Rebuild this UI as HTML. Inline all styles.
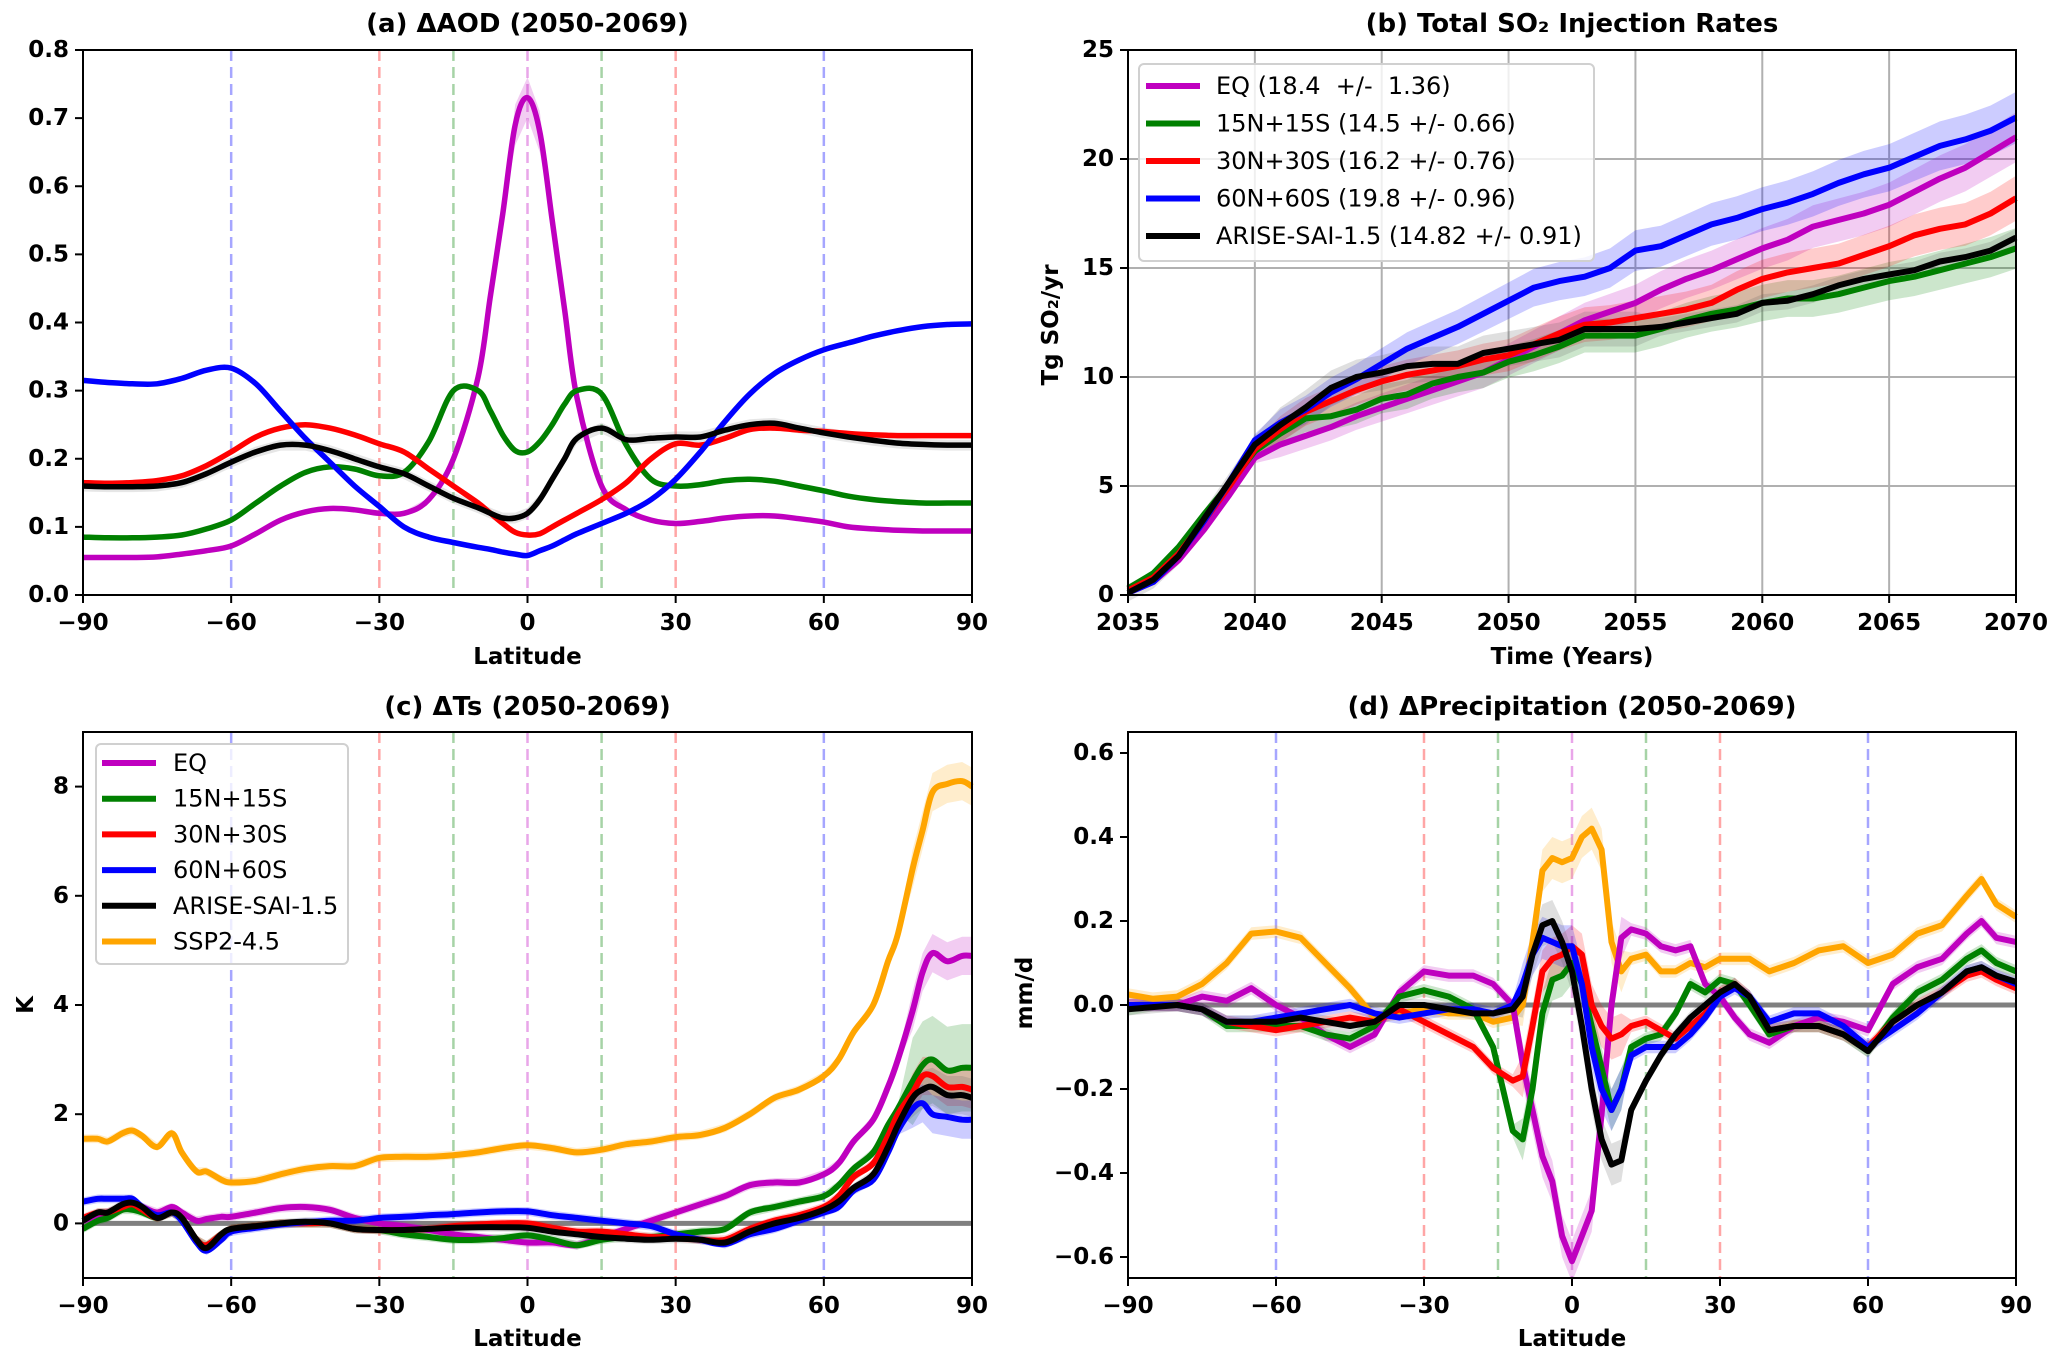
<!DOCTYPE html>
<html><head><meta charset="utf-8">
<style>
html,body{margin:0;padding:0;background:#fff;}
svg{display:block;font-family:"DejaVu Sans","Liberation Sans",sans-serif;}
svg text{white-space:pre;}
</style></head>
<body>
<svg id="fig" width="2067" height="1358" viewBox="0 0 2067 1358" xmlns="http://www.w3.org/2000/svg"></svg>
<script>
// ---------- Panel (a) data: ΔAOD ----------
const latA = [-90,-85,-80,-75,-70,-65,-60,-55,-50,-45,-40,-35,-30,-25,-20,-15,-10,-7.5,-5,-2.5,0,2.5,5,7.5,10,15,20,25,30,35,40,45,50,55,60,65,70,75,80,85,90];
const aodEQ   = [0.055,0.055,0.055,0.056,0.06,0.065,0.072,0.09,0.11,0.122,0.127,0.125,0.12,0.12,0.14,0.2,0.32,0.44,0.56,0.69,0.73,0.68,0.55,0.42,0.29,0.16,0.125,0.11,0.105,0.108,0.113,0.116,0.116,0.112,0.107,0.1,0.097,0.095,0.094,0.094,0.094];
const aod15   = [0.085,0.084,0.084,0.085,0.088,0.097,0.11,0.135,0.16,0.18,0.188,0.185,0.175,0.18,0.225,0.3,0.3,0.27,0.235,0.212,0.21,0.225,0.25,0.28,0.3,0.295,0.22,0.17,0.16,0.162,0.168,0.17,0.167,0.16,0.153,0.145,0.14,0.137,0.135,0.135,0.135];
const aod30   = [0.165,0.164,0.165,0.168,0.175,0.19,0.21,0.232,0.245,0.25,0.245,0.235,0.222,0.21,0.185,0.16,0.135,0.12,0.105,0.092,0.088,0.09,0.1,0.11,0.12,0.14,0.165,0.2,0.222,0.22,0.23,0.243,0.245,0.242,0.24,0.237,0.235,0.234,0.234,0.234,0.234];
const aod60   = [0.315,0.312,0.31,0.31,0.318,0.33,0.333,0.31,0.27,0.23,0.195,0.16,0.13,0.1,0.085,0.077,0.07,0.067,0.063,0.06,0.058,0.065,0.072,0.081,0.09,0.105,0.12,0.14,0.17,0.21,0.255,0.295,0.325,0.345,0.36,0.37,0.38,0.388,0.394,0.397,0.398];
const aodARISE= [0.16,0.159,0.159,0.16,0.165,0.178,0.195,0.21,0.22,0.22,0.212,0.2,0.188,0.178,0.16,0.142,0.128,0.12,0.113,0.113,0.12,0.14,0.17,0.2,0.23,0.245,0.228,0.23,0.232,0.232,0.242,0.25,0.252,0.245,0.238,0.232,0.227,0.223,0.221,0.22,0.22];
const ticksAy = [0.0,0.1,0.2,0.3,0.4,0.5,0.6,0.7,0.8];
const ticksLat = [-90,-60,-30,0,30,60,90];

// ---------- Panel (b) data: SO2 injection ----------
const years = [2035,2036,2037,2038,2039,2040,2041,2042,2043,2044,2045,2046,2047,2048,2049,2050,2051,2052,2053,2054,2055,2056,2057,2058,2059,2060,2061,2062,2063,2064,2065,2066,2067,2068,2069,2070];
const injEQ   = [0.1,0.6,1.6,3.0,4.6,6.3,6.9,7.3,7.7,8.2,8.6,9.0,9.4,9.8,10.2,10.8,11.4,12.0,12.6,13.0,13.4,14.0,14.5,14.9,15.4,15.9,16.3,16.9,17.2,17.5,17.9,18.5,19.1,19.6,20.3,21.0];
const inj15   = [0.3,1.0,2.2,3.7,5.1,6.6,7.4,8.1,8.2,8.5,9.0,9.2,9.7,10.0,10.2,10.7,11.0,11.4,11.9,11.9,11.9,12.2,12.6,12.9,13.1,13.4,13.6,13.6,13.8,14.1,14.4,14.6,14.9,15.2,15.5,15.9];
const inj30   = [0.2,0.8,1.9,3.4,5.0,6.7,7.6,8.4,8.9,9.4,9.8,10.1,10.3,10.5,10.8,11.0,11.5,12.0,12.4,12.5,12.7,12.9,13.1,13.4,14.0,14.5,14.8,15.0,15.2,15.6,16.0,16.5,16.8,17.0,17.5,18.2];
const inj60   = [0.1,0.6,1.8,3.4,5.2,7.1,7.9,8.5,9.3,9.9,10.6,11.3,11.8,12.3,12.9,13.5,14.1,14.4,14.6,15.0,15.8,16.0,16.5,17.0,17.3,17.7,18.0,18.4,18.9,19.3,19.6,20.1,20.6,20.9,21.3,21.9];
const injARISE= [0.1,0.7,1.8,3.5,5.2,6.9,7.8,8.6,9.5,10.0,10.2,10.5,10.6,10.6,11.1,11.3,11.5,11.7,12.2,12.2,12.2,12.3,12.5,12.7,12.9,13.4,13.5,13.8,14.2,14.5,14.7,14.9,15.3,15.5,15.8,16.4];
const ticksBx = [2035,2040,2045,2050,2055,2060,2065,2070];
const ticksBy = [0,5,10,15,20,25];
const legendB = ["EQ (18.4  +/-  1.36)","15N+15S (14.5 +/- 0.66)","30N+30S (16.2 +/- 0.76)","60N+60S (19.8 +/- 0.96)","ARISE-SAI-1.5 (14.82 +/- 0.91)"];

// ---------- Panel (c) data: ΔTs ----------
const latC = [-90,-87,-85,-82,-80,-78,-75,-72,-70,-67,-65,-62,-60,-55,-50,-45,-40,-35,-30,-25,-20,-15,-10,-5,0,5,10,15,20,25,30,35,40,45,50,55,60,63,66,70,73,75,78,80,82,85,88,90];
const tsSSP  = [1.55,1.55,1.5,1.65,1.7,1.6,1.4,1.65,1.3,0.95,0.95,0.8,0.75,0.78,0.9,1.0,1.05,1.05,1.2,1.22,1.22,1.25,1.3,1.38,1.43,1.38,1.3,1.35,1.45,1.5,1.58,1.62,1.75,2.0,2.3,2.45,2.7,3.0,3.5,4.0,4.8,5.3,6.5,7.2,7.9,8.05,8.1,8.0];
const tsEQ   = [0.05,0.15,0.2,0.3,0.35,0.3,0.2,0.3,0.2,0.05,0.08,0.12,0.12,0.2,0.28,0.3,0.25,0.1,0.0,-0.05,-0.12,-0.2,-0.25,-0.3,-0.35,-0.35,-0.4,-0.25,-0.1,0.05,0.2,0.35,0.5,0.7,0.75,0.75,0.9,1.1,1.5,1.9,2.5,3.0,3.9,4.6,4.95,4.8,4.9,4.9];
const ts15   = [-0.1,0.05,0.1,0.25,0.25,0.2,0.1,0.2,0.1,-0.3,-0.4,-0.2,-0.1,-0.05,0.0,0.0,0.0,-0.1,-0.12,-0.2,-0.25,-0.3,-0.3,-0.27,-0.22,-0.3,-0.4,-0.3,-0.25,-0.25,-0.2,-0.15,-0.1,0.2,0.3,0.4,0.5,0.7,1.0,1.3,1.8,2.1,2.6,2.9,3.0,2.8,2.85,2.85];
const ts30   = [0.1,0.2,0.2,0.3,0.35,0.25,0.1,0.2,0.1,-0.3,-0.4,-0.2,-0.1,-0.05,0.0,0.0,0.0,-0.1,-0.12,-0.12,-0.1,-0.05,-0.02,0.0,0.0,-0.08,-0.15,-0.15,-0.2,-0.25,-0.25,-0.3,-0.3,-0.1,0.05,0.15,0.3,0.5,0.85,1.1,1.6,2.0,2.4,2.7,2.7,2.5,2.5,2.45];
const ts60   = [0.4,0.45,0.45,0.45,0.45,0.3,0.15,0.2,0.05,-0.35,-0.5,-0.3,-0.15,-0.08,-0.02,0.02,0.05,0.05,0.1,0.12,0.15,0.17,0.2,0.22,0.22,0.15,0.1,0.05,0.0,-0.05,-0.2,-0.3,-0.38,-0.2,-0.1,0.05,0.2,0.3,0.6,0.8,1.3,1.7,2.1,2.2,2.0,1.95,1.9,1.9];
const tsARISE= [0.05,0.2,0.2,0.35,0.38,0.3,0.1,0.2,0.1,-0.3,-0.45,-0.2,-0.1,-0.05,0.0,0.03,0.0,-0.1,-0.12,-0.12,-0.1,-0.08,-0.07,-0.07,-0.08,-0.15,-0.2,-0.25,-0.28,-0.3,-0.28,-0.3,-0.35,-0.15,0.0,0.1,0.25,0.4,0.65,0.9,1.4,1.8,2.3,2.45,2.5,2.35,2.35,2.3];
const ticksCy = [0,2,4,6,8];
const legendC = ["EQ","15N+15S","30N+30S","60N+60S","ARISE-SAI-1.5","SSP2-4.5"];

// ---------- Panel (d) data: ΔPrecipitation ----------
const latD = [-90,-85,-80,-75,-70,-65,-60,-55,-50,-45,-40,-35,-30,-25,-20,-16,-12,-10,-8,-6,-4,-2,0,2,4,6,8,10,12,15,18,21,24,27,30,33,36,40,45,50,55,60,65,70,75,80,83,86,90];
const prSSP  = [0.025,0.015,0.02,0.05,0.1,0.17,0.175,0.16,0.1,0.04,-0.03,-0.02,-0.01,-0.02,-0.02,-0.04,-0.03,0.0,0.15,0.32,0.35,0.34,0.35,0.4,0.42,0.37,0.15,0.08,0.11,0.12,0.08,0.08,0.1,0.09,0.11,0.11,0.11,0.08,0.1,0.13,0.14,0.1,0.12,0.17,0.19,0.26,0.3,0.24,0.21];
const prEQ   = [0.0,0.0,0.0,0.02,0.01,0.04,0.0,-0.03,-0.07,-0.1,-0.07,0.03,0.08,0.07,0.07,0.05,0.0,-0.14,-0.25,-0.36,-0.42,-0.55,-0.61,-0.55,-0.49,-0.26,0.0,0.16,0.18,0.17,0.14,0.13,0.14,0.05,0.02,-0.03,-0.07,-0.09,-0.05,-0.03,-0.04,-0.06,0.05,0.09,0.11,0.17,0.2,0.16,0.15];
const pr15   = [-0.01,0.0,0.0,-0.01,-0.05,-0.05,-0.05,-0.05,-0.07,-0.08,-0.05,0.02,0.035,0.02,-0.01,-0.1,-0.3,-0.32,-0.2,-0.02,0.06,0.07,0.1,0.05,-0.05,-0.15,-0.25,-0.2,-0.1,-0.08,-0.07,-0.02,0.05,0.03,0.06,0.05,0.0,-0.07,-0.05,-0.05,-0.07,-0.11,-0.03,0.03,0.06,0.11,0.13,0.1,0.08];
const pr30   = [0.0,0.0,0.0,-0.01,-0.04,-0.05,-0.06,-0.05,-0.04,-0.03,-0.04,-0.01,-0.04,-0.07,-0.1,-0.15,-0.18,-0.17,-0.05,0.08,0.11,0.12,0.14,0.12,0.0,-0.05,-0.08,-0.07,-0.05,-0.04,-0.06,-0.08,-0.05,-0.02,0.03,0.05,0.02,-0.06,-0.05,-0.05,-0.07,-0.1,-0.04,0.0,0.03,0.07,0.08,0.06,0.04];
const pr60   = [0.0,0.0,0.0,-0.01,-0.04,-0.04,-0.03,-0.02,-0.01,0.0,-0.02,-0.03,-0.02,-0.01,-0.01,-0.02,0.0,0.05,0.12,0.16,0.15,0.14,0.14,0.05,-0.1,-0.2,-0.25,-0.2,-0.12,-0.1,-0.1,-0.1,-0.07,-0.03,0.02,0.04,0.02,-0.04,-0.02,-0.02,-0.05,-0.1,-0.06,-0.02,0.03,0.08,0.09,0.07,0.05];
const prARISE= [-0.01,-0.005,0.0,-0.01,-0.04,-0.04,-0.04,-0.03,-0.04,-0.05,-0.04,0.0,0.0,-0.01,-0.02,-0.02,-0.01,0.02,0.12,0.19,0.2,0.15,0.08,-0.05,-0.2,-0.32,-0.38,-0.37,-0.25,-0.18,-0.12,-0.07,-0.03,0.0,0.03,0.05,0.02,-0.06,-0.05,-0.05,-0.07,-0.11,-0.04,0.0,0.03,0.08,0.09,0.07,0.055];
const ticksDy = [-0.6,-0.4,-0.2,0.0,0.2,0.4,0.6];

const C = {eq:'#bf00bf', g:'#008000', r:'#ff0000', b:'#0000ff', k:'#000000', o:'#ffa500'};
const NS = 'http://www.w3.org/2000/svg';
const svg = document.getElementById('fig');

function mk(tag, attrs, parent, name, inter) {
  const el = document.createElementNS(NS, tag);
  for (const k in attrs) el.setAttribute(k, attrs[k]);
  
  
  (parent || svg).appendChild(el);
  return el;
}
function txt(s, x, y, size, parent, name, opts) {
  opts = opts || {};
  const el = mk('text', {x:x, y:y, 'font-size':size, 'font-weight':opts.w || 'bold', 'text-anchor':opts.a || 'middle', 'dominant-baseline':'central', fill:'#000'}, parent, name, false);
  if (opts.rot) el.setAttribute('transform', 'rotate(-90 ' + x + ' ' + y + ')');
  el.textContent = s;
  return el;
}
function makeAxes(L, R, T, B, x0, x1, y0, y1) {
  return {L, R, T, B, sx: v => L + (v - x0) / (x1 - x0) * (R - L), sy: v => B - (v - y0) / (y1 - y0) * (B - T)};
}
function linePath(ax, xs, ys, smooth) {
  const p = xs.map((x, i) => [ax.sx(x), ax.sy(ys[i])]);
  let d = 'M' + p[0][0].toFixed(1) + ',' + p[0][1].toFixed(1);
  for (let i = 1; i < p.length; i++) {
    if (smooth) {
      const p0 = p[Math.max(0, i - 2)], p1 = p[i - 1], p2 = p[i], p3 = p[Math.min(p.length - 1, i + 1)];
      const c1 = [p1[0] + (p2[0] - p0[0]) / 6, p1[1] + (p2[1] - p0[1]) / 6];
      const c2 = [p2[0] - (p3[0] - p1[0]) / 6, p2[1] - (p3[1] - p1[1]) / 6];
      d += 'C' + c1[0].toFixed(1) + ',' + c1[1].toFixed(1) + ' ' + c2[0].toFixed(1) + ',' + c2[1].toFixed(1) + ' ' + p2[0].toFixed(1) + ',' + p2[1].toFixed(1);
    } else d += 'L' + p[i][0].toFixed(1) + ',' + p[i][1].toFixed(1);
  }
  return d;
}
function band(ax, xs, ys, half, color, g, name) {
  const up = xs.map((x, i) => ax.sx(x).toFixed(1) + ',' + ax.sy(ys[i] + half(ys[i], i)).toFixed(1));
  const dn = xs.map((x, i) => ax.sx(x).toFixed(1) + ',' + ax.sy(ys[i] - half(ys[i], i)).toFixed(1)).reverse();
  mk('polygon', {points: up.concat(dn).join(' '), fill: color, 'fill-opacity': 0.2, stroke: 'none'}, g, name, false);
}
function series(ax, xs, ys, color, g, name, smooth, w) {
  mk('path', {d: linePath(ax, xs, ys, smooth), fill: 'none', stroke: color, 'stroke-width': w || 5.5, 'stroke-linejoin': 'round', 'stroke-linecap': 'butt'}, g, name, false);
}
function frame(ax, g, pname) {
  mk('rect', {x: ax.L, y: ax.T, width: ax.R - ax.L, height: ax.B - ax.T, fill: 'none', stroke: '#000', 'stroke-width': 2}, g, pname + '-frame', false);
}
function xticks(ax, ticks, labels, g, pname) {
  ticks.forEach((t, i) => {
    const x = ax.sx(t);
    mk('line', {x1: x, y1: ax.B, x2: x, y2: ax.B + 8, stroke: '#000', 'stroke-width': 2}, g, pname + '-x-tick', false);
    txt(labels[i], x, ax.B + 28, 23, g, pname + '-x-tick-label');
  });
}
function yticks(ax, ticks, labels, g, pname) {
  ticks.forEach((t, i) => {
    const y = ax.sy(t);
    mk('line', {x1: ax.L - 8, y1: y, x2: ax.L, y2: y, stroke: '#000', 'stroke-width': 2}, g, pname + '-y-tick', false);
    txt(labels[i], ax.L - 14, y, 23, g, pname + '-y-tick-label', {a: 'end'});
  });
}
function vlines(ax, g, pname, withEq) {
  const defs = [[-60, C.b], [60, C.b], [-30, C.r], [30, C.r], [-15, C.g], [15, C.g]];
  if (withEq) defs.push([0, C.eq]);
  defs.forEach(d => {
    const x = ax.sx(d[0]);
    mk('line', {x1: x, y1: ax.T, x2: x, y2: ax.B, stroke: d[1], 'stroke-opacity': 0.35, 'stroke-width': 2.5, 'stroke-dasharray': '11,6'}, g, pname + '-ref-line', false);
  });
}
const fmtLat = v => v < 0 ? '\u2212' + Math.abs(v) : String(v);
const fmtDec = v => (v < 0 ? '\u2212' : '') + Math.abs(v).toFixed(1);

// ===== Panel (a) =====
(function () {
  const g = mk('g', {}, svg, 'panel-a-aod', false);
  const ax = makeAxes(83, 972, 50, 595, -90, 90, 0, 0.8);
  vlines(ax, g, 'panel-a', true);
  band(ax, latA, aodARISE, (v, i) => 0.008, '#808080', g, 'arise-band');
  band(ax, latA, aodEQ, (v, i) => (Math.abs(latA[i]) < 5 ? 0.03 : 0.003), C.eq, g, 'eq-band');
  series(ax, latA, aodEQ, C.eq, g, 'eq-line', true);
  series(ax, latA, aod15, C.g, g, '15n15s-line', true);
  series(ax, latA, aod30, C.r, g, '30n30s-line', true);
  series(ax, latA, aod60, C.b, g, '60n60s-line', true);
  series(ax, latA, aodARISE, C.k, g, 'arise-line', true);
  frame(ax, g, 'panel-a');
  xticks(ax, ticksLat, ticksLat.map(fmtLat), g, 'panel-a');
  yticks(ax, ticksAy, ticksAy.map(fmtDec), g, 'panel-a');
  txt('(a) \u0394AOD (2050-2069)', (ax.L + ax.R) / 2, 24, 26, g, 'panel-a-title');
  txt('Latitude', (ax.L + ax.R) / 2, 657, 23, g, 'panel-a-x-axis-title');
})();

// ===== Panel (b) =====
(function () {
  const g = mk('g', {}, svg, 'panel-b-injection', false);
  const ax = makeAxes(1128, 2016, 50, 595, 2035, 2070, 0, 25);
  ticksBx.forEach(t => mk('line', {x1: ax.sx(t), y1: ax.T, x2: ax.sx(t), y2: ax.B, stroke: '#b0b0b0', 'stroke-width': 2}, g, 'x-gridline', false));
  ticksBy.forEach(t => mk('line', {x1: ax.L, y1: ax.sy(t), x2: ax.R, y2: ax.sy(t), stroke: '#b0b0b0', 'stroke-width': 2}, g, 'y-gridline', false));
  const hw = (v, i) => 0.04 * v + (years[i] > 2040 ? 0.3 : 0);
  band(ax, years, injEQ, hw, C.eq, g, 'eq-band');
  band(ax, years, inj15, hw, C.g, g, '15n15s-band');
  band(ax, years, inj30, hw, C.r, g, '30n30s-band');
  band(ax, years, inj60, hw, C.b, g, '60n60s-band');
  band(ax, years, injARISE, (v, i) => (years[i] > 2040 && years[i] < 2056 ? 0.8 : 0.4), '#606060', g, 'arise-band');
  series(ax, years, injEQ, C.eq, g, 'eq-line', false, 6);
  series(ax, years, inj15, C.g, g, '15n15s-line', false, 6);
  series(ax, years, inj30, C.r, g, '30n30s-line', false, 6);
  series(ax, years, inj60, C.b, g, '60n60s-line', false, 6);
  series(ax, years, injARISE, C.k, g, 'arise-line', false, 6);
  frame(ax, g, 'panel-b');
  xticks(ax, ticksBx, ticksBx.map(String), g, 'panel-b');
  yticks(ax, ticksBy, ticksBy.map(String), g, 'panel-b');
  txt('(b) Total SO\u2082 Injection Rates', (ax.L + ax.R) / 2, 24, 26, g, 'panel-b-title');
  txt('Time (Years)', (ax.L + ax.R) / 2, 657, 23, g, 'panel-b-x-axis-title');
  txt('Tg SO\u2082/yr', 1051, 325, 23, g, 'panel-b-y-axis-title', {rot: true});
  const lg = mk('g', {}, g, 'legend-b', false);
  mk('rect', {x: 1139, y: 64, width: 455, height: 197, rx: 5, fill: '#fff', 'fill-opacity': 0.8, stroke: '#d0d0d0', 'stroke-width': 2}, lg, 'legend-b-box', false);
  const cols = [C.eq, C.g, C.r, C.b, C.k];
  legendB.forEach((s, i) => {
    const y = 86 + i * 37.5;
    mk('line', {x1: 1146, y1: y, x2: 1200, y2: y, stroke: cols[i], 'stroke-width': 6}, lg, 'legend-b-swatch', false);
    txt(s, 1216, y, 24, lg, 'legend-b-entry', {a: 'start', w: 'normal'});
  });
})();

// ===== Panel (c) =====
(function () {
  const g = mk('g', {}, svg, 'panel-c-ts', false);
  const ax = makeAxes(83, 972, 732, 1278, -90, 90, -1, 9);
  vlines(ax, g, 'panel-c', true);
  mk('line', {x1: ax.L, y1: ax.sy(0), x2: ax.R, y2: ax.sy(0), stroke: '#808080', 'stroke-width': 5}, g, 'zero-line', false);
  const hw = (v, i) => (latC[i] > 75 ? 0.35 : 0.08);
  band(ax, latC, tsSSP, hw, C.o, g, 'ssp-band');
  band(ax, latC, tsEQ, hw, C.eq, g, 'eq-band');
  band(ax, latC, ts15, (v, i) => (latC[i] > 75 ? 0.8 : 0.08), C.g, g, '15n15s-band');
  band(ax, latC, ts30, hw, C.r, g, '30n30s-band');
  band(ax, latC, ts60, hw, C.b, g, '60n60s-band');
  band(ax, latC, tsARISE, hw, '#606060', g, 'arise-band');
  series(ax, latC, tsSSP, C.o, g, 'ssp-line', true, 6);
  series(ax, latC, tsEQ, C.eq, g, 'eq-line', true, 6);
  series(ax, latC, ts15, C.g, g, '15n15s-line', true, 6);
  series(ax, latC, ts30, C.r, g, '30n30s-line', true, 6);
  series(ax, latC, ts60, C.b, g, '60n60s-line', true, 6);
  series(ax, latC, tsARISE, C.k, g, 'arise-line', true, 6);
  frame(ax, g, 'panel-c');
  xticks(ax, ticksLat, ticksLat.map(fmtLat), g, 'panel-c');
  yticks(ax, ticksCy, ticksCy.map(String), g, 'panel-c');
  txt('(c) \u0394Ts (2050-2069)', (ax.L + ax.R) / 2, 707, 26, g, 'panel-c-title');
  txt('Latitude', (ax.L + ax.R) / 2, 1339, 23, g, 'panel-c-x-axis-title');
  txt('K', 26, 1005, 23, g, 'panel-c-y-axis-title', {rot: true});
  const lg = mk('g', {}, g, 'legend-c', false);
  mk('rect', {x: 96, y: 744, width: 252, height: 220, rx: 5, fill: '#fff', 'fill-opacity': 0.8, stroke: '#d0d0d0', 'stroke-width': 2}, lg, 'legend-c-box', false);
  const cols = [C.eq, C.g, C.r, C.b, C.k, C.o];
  legendC.forEach((s, i) => {
    const y = 763 + i * 35.7;
    mk('line', {x1: 102, y1: y, x2: 156, y2: y, stroke: cols[i], 'stroke-width': 6}, lg, 'legend-c-swatch', false);
    txt(s, 173, y, 24, lg, 'legend-c-entry', {a: 'start', w: 'normal'});
  });
})();

// ===== Panel (d) =====
(function () {
  const g = mk('g', {}, svg, 'panel-d-precip', false);
  const ax = makeAxes(1128, 2016, 732, 1278, -90, 90, -0.65, 0.65);
  vlines(ax, g, 'panel-d', true);
  mk('line', {x1: ax.L, y1: ax.sy(0), x2: ax.R, y2: ax.sy(0), stroke: '#808080', 'stroke-width': 5}, g, 'zero-line', false);
  const hw = (v, i) => (Math.abs(latD[i]) < 12 ? 0.05 : 0.015);
  band(ax, latD, prSSP, hw, C.o, g, 'ssp-band');
  band(ax, latD, prEQ, hw, C.eq, g, 'eq-band');
  band(ax, latD, pr15, hw, C.g, g, '15n15s-band');
  band(ax, latD, pr30, hw, C.r, g, '30n30s-band');
  band(ax, latD, pr60, hw, C.b, g, '60n60s-band');
  band(ax, latD, prARISE, hw, '#606060', g, 'arise-band');
  series(ax, latD, prSSP, C.o, g, 'ssp-line', false, 6);
  series(ax, latD, prEQ, C.eq, g, 'eq-line', false, 6);
  series(ax, latD, pr15, C.g, g, '15n15s-line', false, 6);
  series(ax, latD, pr30, C.r, g, '30n30s-line', false, 6);
  series(ax, latD, pr60, C.b, g, '60n60s-line', false, 6);
  series(ax, latD, prARISE, C.k, g, 'arise-line', false, 6);
  frame(ax, g, 'panel-d');
  xticks(ax, ticksLat, ticksLat.map(fmtLat), g, 'panel-d');
  yticks(ax, ticksDy, ticksDy.map(fmtDec), g, 'panel-d');
  txt('(d) \u0394Precipitation (2050-2069)', (ax.L + ax.R) / 2, 707, 26, g, 'panel-d-title');
  txt('Latitude', (ax.L + ax.R) / 2, 1339, 23, g, 'panel-d-x-axis-title');
  txt('mm/d', 1025, 993, 23, g, 'panel-d-y-axis-title', {rot: true});
})();
</script>
</body></html>
